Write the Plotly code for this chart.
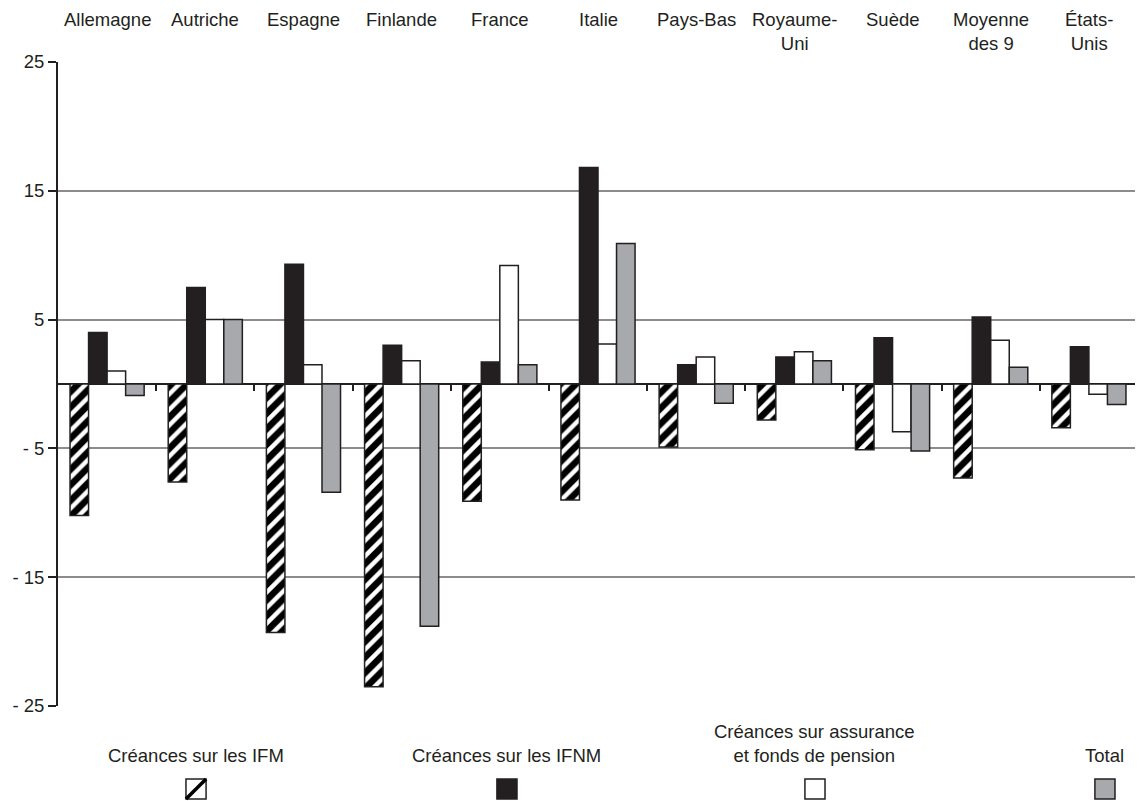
import plotly.graph_objects as go

# categories (top labels)
pays = ["Allemagne", "Autriche", "Espagne", "Finlande", "France", "Italie",
        "Pays-Bas", "Royaume-Uni", "Suède", "Moyenne des 9", "États-Unis"]
pays_labels = ["Allemagne", "Autriche", "Espagne", "Finlande", "France", "Italie",
               "Pays-Bas", "Royaume-<br>Uni", "Suède", "Moyenne<br>des 9", "États-<br>Unis"]

# series values
creances_ifm = [-10.2, -7.6, -19.3, -23.5, -9.1, -9.0, -4.9, -2.8, -5.1, -7.3, -3.4]
creances_ifnm = [4.0, 7.5, 9.3, 3.0, 1.7, 16.8, 1.5, 2.1, 3.6, 5.2, 2.9]
creances_assurance = [1.0, 5.0, 1.5, 1.8, 9.2, 3.1, 2.1, 2.5, -3.7, 3.4, -0.8]
total = [-0.9, 5.0, -8.4, -18.8, 1.5, 10.9, -1.5, 1.8, -5.2, 1.3, -1.6]

y_ticks = [25, 15, 5, -5, -15, -25]
y_ticktext = ["25", "15", "5", "- 5", "- 15", "- 25"]

legend_names = ["Créances sur les IFM", "Créances sur les IFNM",
                "Créances sur assurance<br>et fonds de pension", "Total"]

FONT = "Liberation Sans, Arial, sans-serif"
EDGE = "#231f20"
GREY = "#a7a9ac"
FS = 18.5

fig = go.Figure()

fig.add_trace(go.Bar(
    x=pays, y=creances_ifm, name=legend_names[0],
    marker=dict(color="white", line=dict(color=EDGE, width=1.5),
                pattern=dict(shape="/", fgcolor="black", bgcolor="white",
                             fgopacity=1, size=11, solidity=0.6)),
))
fig.add_trace(go.Bar(
    x=pays, y=creances_ifnm, name=legend_names[1],
    marker=dict(color=EDGE, line=dict(color=EDGE, width=1.5)),
))
fig.add_trace(go.Bar(
    x=pays, y=creances_assurance, name=legend_names[2],
    marker=dict(color="white", line=dict(color=EDGE, width=1.5)),
))
fig.add_trace(go.Bar(
    x=pays, y=total, name=legend_names[3],
    marker=dict(color=GREY, line=dict(color=EDGE, width=1.5)),
))

# category labels along the top
annotations = []
for p, lab in zip(pays, pays_labels):
    annotations.append(dict(
        x=p, xref="x", y=1, yref="paper", yanchor="top", xanchor="center", yshift=55,
        text=lab, showarrow=False, align="center",
        font=dict(family=FONT, size=FS, color="#231f20"),
    ))

# hand-made legend: text above, swatch below
legend_x = [0.1278, 0.4157, 0.7009, 0.9694]
fills = ["white", EDGE, "white", GREY]
shapes = []
w = 0.0093
for i, (name, lx) in enumerate(zip(legend_names, legend_x)):
    annotations.append(dict(
        x=lx, xref="paper", y=-0.097, yref="paper", yanchor="bottom", xanchor="center",
        text=name, showarrow=False, align="center",
        font=dict(family=FONT, size=FS, color="#231f20"),
    ))
    shapes.append(dict(
        type="rect", xref="paper", yref="paper",
        x0=lx - w, x1=lx + w, y0=-0.1444, y1=-0.1134,
        fillcolor=fills[i], line=dict(color=EDGE, width=1.5),
    ))
    if i == 0:
        shapes.append(dict(
            type="line", xref="paper", yref="paper",
            x0=lx - w, x1=lx + w, y0=-0.1444, y1=-0.1134,
            line=dict(color="black", width=3.5),
        ))

# darker -5 gridline and grey right border
shapes.append(dict(type="line", xref="paper", yref="y", x0=0, x1=1, y0=-5, y1=-5,
                   line=dict(color="#231f20", width=1), layer="below"))
shapes.append(dict(type="line", xref="paper", yref="paper", x0=1, x1=1, y0=0, y1=1,
                   line=dict(color="#8c8c8c", width=1.5)))

# the page body keeps an 8px margin, so the figure is shrunk by that offset
fig.update_layout(
    width=1135, height=793,
    margin=dict(l=50, r=5, t=54, b=95),
    paper_bgcolor="white", plot_bgcolor="white",
    barmode="group", bargap=0.245, bargroupgap=0,
    showlegend=False,
    font=dict(family=FONT, size=FS, color="#231f20"),
    annotations=annotations,
    shapes=shapes,
    xaxis=dict(showticklabels=False, ticks="", showline=False, showgrid=False,
               range=[-0.5, 10.5]),
    # boundary ticks on the zero line
    xaxis2=dict(overlaying="x", anchor="free", position=0.5, range=[-0.5, 10.5],
                tickvals=[i + 0.5 for i in range(len(pays))], ticks="outside",
                ticklen=6, tickwidth=1.5, tickcolor="#231f20",
                showticklabels=False, showline=False, showgrid=False, zeroline=False),
    yaxis=dict(range=[-25, 25], tickvals=y_ticks, ticktext=y_ticktext,
               showgrid=True, gridcolor="#8c8c8c", gridwidth=1.5,
               zeroline=True, zerolinecolor="#231f20", zerolinewidth=2,
               showline=True, linecolor="#231f20", linewidth=2,
               ticks="outside", ticklen=8, tickwidth=1.5, tickcolor="#231f20",
               automargin=False,
               tickfont=dict(family=FONT, size=FS, color="#231f20")),
)

# invisible trace so the boundary-tick axis is drawn
fig.add_trace(go.Scatter(x=[0], y=[0], xaxis="x2", mode="markers",
                         marker=dict(opacity=0), hoverinfo="skip", showlegend=False))

fig.write_html("out.html")
